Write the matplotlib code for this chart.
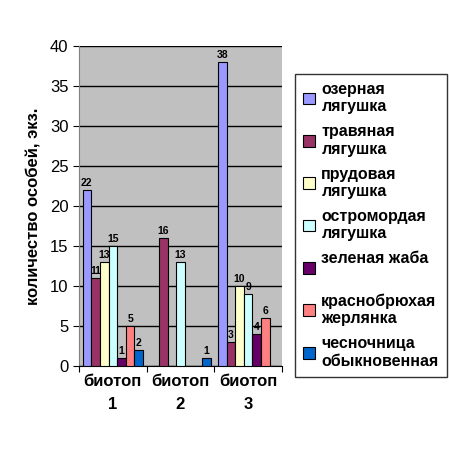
import matplotlib
matplotlib.use("Agg")
import matplotlib.pyplot as plt
import numpy as np

plt.rcParams['font.family'] = ['Liberation Sans', 'DejaVu Sans']

categories = ["биотоп\n1", "биотоп\n2", "биотоп\n3"]
species = ["озерная\nлягушка", "травяная\nлягушка", "прудовая\nлягушка",
           "остромордая\nлягушка", "зеленая жаба\n ", "краснобрюхая\nжерлянка",
           "чесночница\nобыкновенная"]
values = [
    [22, 0, 38],
    [11, 16, 3],
    [13, 0, 10],
    [15, 13, 9],
    [1, 0, 4],
    [5, 0, 6],
    [2, 1, 0],
]
colors = ["#9999FF", "#993366", "#FFFFCC", "#CCFFFF", "#660066", "#FF8080", "#0066CC"]

fig = plt.figure(figsize=(4.49, 4.51), dpi=100)
ax = fig.add_axes([79/449, 1-366/451, (282-79)/449, (366-46)/451])
ax.set_facecolor("#C0C0C0")

n = len(species)
w = 0.128
x = np.arange(len(categories))
for i, (sp, vals, c) in enumerate(zip(species, values, colors)):
    pos = x + (i - (n-1)/2) * w
    ax.bar(pos, vals, w, color=c, edgecolor="black", linewidth=0.8, label=sp, zorder=3)
    for p, v in zip(pos, vals):
        if v > 0:
            ax.text(p, v + 0.3, str(v), ha="center", va="bottom", fontsize=7.5,
                    fontweight="bold", zorder=4)

ax.set_xlim(-0.5, 2.5)
ax.set_ylim(0, 40)
ax.set_yticks(range(0, 41, 5))
ax.yaxis.grid(True, color="black", linewidth=1, zorder=0)
ax.set_axisbelow(True)
ax.set_xticks([-0.5, 0.5, 1.5, 2.5], minor=False)
ax.set_xticklabels([])
ax.set_xticks(x, minor=True)
ax.set_xticklabels(categories, minor=True, fontsize=12, fontweight="bold", linespacing=1.6)
ax.tick_params(axis="x", which="minor", length=0, pad=6)
ax.tick_params(axis="x", which="major", length=4, direction="out")
ax.tick_params(axis="y", labelsize=12, length=4, direction="out")
for s in ["top", "right"]:
    ax.spines[s].set_visible(False)
ax.spines["left"].set_color("#808080")
ax.spines["bottom"].set_color("black")
ax.set_ylabel("количество особей, экз.", fontsize=12, fontweight="bold", labelpad=6)

leg = fig.legend(loc="upper left", bbox_to_anchor=(295/449, 1-74/451), frameon=True,
                 fancybox=False, edgecolor="black", handlelength=0.75,
                 handleheight=0.75, handletextpad=0.4, labelspacing=0.62,
                 prop={"weight": "bold", "size": 11.5}, borderpad=0.5,
                 borderaxespad=0)
leg.get_frame().set_linewidth(1)
for h in leg.legend_handles:
    h.set_edgecolor("black")
    h.set_linewidth(0.8)

fig.savefig("out.png", dpi=100, facecolor="white")
